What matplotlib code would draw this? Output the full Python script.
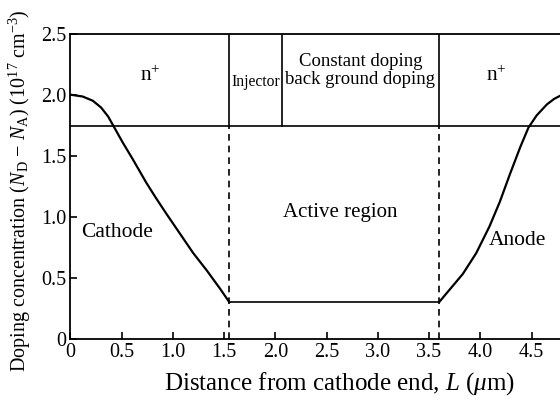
import matplotlib
matplotlib.use('Agg')
import matplotlib.pyplot as plt

plt.rcParams['font.family'] = ['Liberation Serif', 'DejaVu Serif']
plt.rcParams['mathtext.fontset'] = 'custom'
plt.rcParams['mathtext.rm'] = 'Liberation Serif'
plt.rcParams['mathtext.it'] = 'Liberation Serif:italic'

# doping profile (L in um, N in 1e17 cm^-3)
cathode_L = [0.0, 0.12, 0.22, 0.30, 0.37, 0.43, 0.51, 0.61, 0.74, 0.83,
             0.94, 1.07, 1.20, 1.33, 1.46, 1.55]
cathode_N = [2.0, 1.985, 1.95, 1.895, 1.82, 1.73, 1.61, 1.47, 1.28, 1.16,
             1.02, 0.86, 0.70, 0.56, 0.41, 0.30]
active_L = [1.55, 3.6]
active_N = [0.30, 0.30]
anode_L = [3.6, 3.70, 3.83, 3.96, 4.09, 4.19, 4.29, 4.39, 4.47, 4.55,
           4.65, 4.72, 4.80]
anode_N = [0.30, 0.40, 0.53, 0.70, 0.92, 1.12, 1.35, 1.57, 1.73, 1.83,
           1.92, 1.965, 2.0]

n_plus_level = 1.74
injector_start = 1.55
injector_end = 2.07
anode_start = 3.6

region_labels = ['n$^{+}$', 'Injector', 'Constant doping\nback ground doping', 'n$^{+}$']
region_x = [0.78, 1.81, 2.83, 4.16]
region_y = [2.15, 2.10, 2.20, 2.15]
region_size = [15.5, 11.2, 13.5, 15.5]

fig = plt.figure(figsize=(5.6, 4.07), dpi=100)
ax = fig.add_axes([0.1255, 0.1683, 0.8786, 0.7489])

lw = 1.6
ax.plot(cathode_L, cathode_N, color='black', lw=lw, solid_joinstyle='round')
ax.plot(active_L, active_N, color='black', lw=1.2)
ax.plot(anode_L, anode_N, color='black', lw=lw, solid_joinstyle='round')

ax.axhline(n_plus_level, color='black', lw=1.2)
for xb in [injector_start, anode_start]:
    ax.plot([xb, xb], [0, n_plus_level], color='black', lw=1.2, ls=(0, (4, 3)))
for xb in [injector_start, injector_end, anode_start]:
    ax.plot([xb, xb], [n_plus_level, 2.5], color='black', lw=1.2)

for txt, x, y, s in zip(region_labels, region_x, region_y, region_size):
    ax.text(x, y, txt, ha='center', va='center', fontsize=s, linespacing=1.05)

ax.text(0.46, 0.87, 'Cathode', ha='center', va='center', fontsize=15.5)
ax.text(2.63, 1.03, 'Active region', ha='center', va='center', fontsize=15)
ax.text(4.36, 0.80, 'Anode', ha='center', va='center', fontsize=15.5)

ax.set_xlim(0, 4.8)
ax.set_ylim(0, 2.5)
xt = [0, 0.5, 1.0, 1.5, 2.0, 2.5, 3.0, 3.5, 4.0, 4.5]
ax.set_xticks(xt)
ax.set_xticklabels(['0' if v == 0 else f'{v:.1f}' for v in xt])
yt = [0, 0.5, 1.0, 1.5, 2.0, 2.5]
ax.set_yticks(yt)
ax.set_yticklabels(['0' if v == 0 else f'{v:.1f}' for v in yt])
ax.tick_params(direction='in', length=5, width=1.2, labelsize=14.5, pad=3)
for sp in ax.spines.values():
    sp.set_linewidth(1.3)

ax.set_xlabel(r'Distance from cathode end, $L$ ($\mu$m)', fontsize=18)
ax.xaxis.set_label_coords(0.548, -0.105, transform=ax.transAxes)
ax.set_ylabel(r'Doping concentration ($N_{\mathrm{D}}$ $-$ $N_{\mathrm{A}}$) (10$^{17}$ cm$^{-3}$)',
              fontsize=14.5)
ax.yaxis.label.set_verticalalignment('center')
ax.yaxis.set_label_coords(20 / 560, 0.531, transform=fig.transFigure)

fig.savefig('out.png', dpi=100)
